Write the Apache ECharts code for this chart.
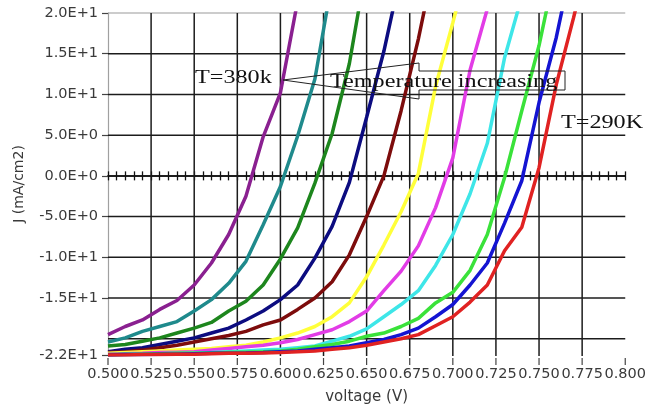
<!DOCTYPE html>
<html><head><meta charset="utf-8">
<script src="https://cdn.jsdelivr.net/npm/echarts@6/dist/echarts.min.js"></script>
<style>html,body{margin:0;padding:0;background:#fff}#c{width:649px;height:410px}</style>
</head><body><div id="c"></div>
<script>
// Shared voltage grid (V)
const voltage = [0.50,0.51,0.52,0.53,0.54,0.55,0.56,0.57,0.58,0.59,0.60,0.61,0.62,0.63,0.64,0.65,0.66,0.67,0.68,0.69,0.70,0.71,0.72,0.73,0.74,0.75,0.76,0.77,0.78];

// Current density J (mA/cm2), one list per temperature, left (hot) to right (cold)
const jPurple  = [-19.5,-18.5,-17.7,-16.4,-15.3,-13.4,-10.7,-7.2,-2.5,4.8,10.2,21.5];
const jTeal    = [-20.4,-19.9,-19.1,-18.5,-17.9,-16.6,-15.2,-13.2,-10.5,-6.0,-1.3,4.9,11.9,24];
const jDkGreen = [-20.9,-20.7,-20.3,-19.9,-19.3,-18.7,-18.0,-16.6,-15.4,-13.4,-10.2,-6.4,-0.9,5.2,13.8,26];
const jNavy    = [-21.6,-21.3,-21.1,-20.7,-20.3,-19.9,-19.3,-18.7,-17.7,-16.6,-15.2,-13.4,-10.1,-6.2,-0.8,7.2,15.3,25];
const jMaroon  = [-21.7,-21.6,-21.4,-21.1,-20.8,-20.4,-20.0,-19.6,-19.1,-18.3,-17.7,-16.4,-15.0,-13.0,-9.7,-5.0,0.0,8.0,16.8,27];
const jYellow  = [-21.8,-21.7,-21.6,-21.5,-21.4,-21.3,-21.2,-21.0,-20.8,-20.4,-19.9,-19.3,-18.5,-17.3,-15.6,-12.4,-8.5,-4.4,0.3,11.0,18.8,27];
const jMagenta = [-21.9,-21.85,-21.8,-21.7,-21.65,-21.6,-21.4,-21.2,-21.0,-20.8,-20.5,-20.1,-19.5,-18.9,-17.9,-16.6,-14.1,-11.7,-8.6,-3.9,2.2,13.0,20.5,28];
const jCyan    = [-22.0,-21.95,-21.9,-21.85,-21.8,-21.75,-21.7,-21.6,-21.5,-21.4,-21.3,-21.1,-20.9,-20.3,-19.7,-18.8,-17.3,-15.8,-14.1,-11.0,-7.2,-2.2,4.0,14.5,22];
const jGreen   = [-21.95,-21.9,-21.9,-21.85,-21.8,-21.8,-21.75,-21.7,-21.65,-21.6,-21.5,-21.3,-21.0,-20.7,-20.3,-19.7,-19.3,-18.5,-17.5,-15.6,-14.3,-11.6,-7.2,-0.2,8.0,16.0,26];
const jBlue    = [-22.0,-21.95,-21.95,-21.9,-21.9,-21.85,-21.8,-21.8,-21.75,-21.7,-21.6,-21.5,-21.3,-21.1,-20.9,-20.5,-20.1,-19.5,-18.7,-17.3,-15.8,-13.4,-10.7,-5.8,-0.6,9.0,17.0,27];
const jRed     = [-22.0,-22.0,-21.95,-21.95,-21.9,-21.9,-21.85,-21.8,-21.8,-21.75,-21.7,-21.6,-21.5,-21.3,-21.1,-20.8,-20.4,-20.0,-19.5,-18.4,-17.3,-15.5,-13.4,-9.2,-6.3,1.0,11.2,19.4,28];

const seriesNames  = ['T=380K','T2','T3','T4','T5','T6','T7','T8','T9','T10','T=290K'];
const seriesColors = ['#8a2090','#1f8a8c','#1d861d','#0c0c80','#7d0c0c','#ffff3a','#e23ce6','#3ee6e8','#3ae23a','#1414d2','#e02222'];
const seriesJ = [jPurple,jTeal,jDkGreen,jNavy,jMaroon,jYellow,jMagenta,jCyan,jGreen,jBlue,jRed];

// Axis ticks, labels and grid lines
const xTickValues = [0.500,0.525,0.550,0.575,0.600,0.625,0.650,0.675,0.700,0.725,0.750,0.775,0.800];
const xTickLabels = ['0.500','0.525','0.550','0.575','0.600','0.625','0.650','0.675','0.700','0.725','0.750','0.775','0.800'];
const xGridValues = [0.525,0.550,0.575,0.600,0.625,0.650,0.675,0.700,0.725,0.750,0.775];
const yTickValues = [-22,-15,-10,-5,0,5,10,15,20];
const yTickLabels = ['-2.2E+1','-1.5E+1','-1.0E+1','-5.0E+0','0.0E+0','5.0E+0','1.0E+1','1.5E+1','2.0E+1'];
const yGridValues = [-20,-15,-10,-5,5,10,15];
const X_MIN = 0.5, X_MAX = 0.8, Y_MIN = -22, Y_MAX = 20;

function nearestLabel(values, labels, v) {
  let best = 0;
  for (let i = 1; i < values.length; i++) if (Math.abs(values[i] - v) < Math.abs(values[best] - v)) best = i;
  return Math.abs(values[best] - v) < 1e-6 * Math.max(1, Math.abs(v)) + 1e-9 ? labels[best] : '';
}

const chart = echarts.init(document.getElementById('c'), null, {renderer:'canvas'});

const curveSeries = seriesJ.map((arr, k) => ({
  name: seriesNames[k],
  type: 'line',
  z: 5,
  showSymbol: false,
  symbol: 'none',
  smooth: false,
  lineStyle: {color: seriesColors[k], width: 3.5},
  itemStyle: {color: seriesColors[k]},
  data: arr.map((j, i) => [voltage[i], j])
}));

const axisFont = {fontFamily: 'DejaVu Sans', color: '#3a3a3a', fontSize: 14.5};
const minorAxis = (pos) => ({
  type: 'value', min: X_MIN, max: X_MAX, interval: 0.005, position: pos,
  axisLine: {show: true, onZero: true, onZeroAxisIndex: 0, lineStyle: {color: '#111', width: 1.5}},
  axisTick: {show: true, inside: false, length: 4.5, lineStyle: {color: '#111', width: 1.3}},
  axisLabel: {show: false}, splitLine: {show: false}
});

chart.setOption({
  animation: false,
  grid: {left: 108, right: 20, top: 13, bottom: 55},
  xAxis: [
    {
      type: 'value', min: X_MIN, max: X_MAX, interval: 0.025, position: 'bottom',
      name: 'voltage (V)', nameLocation: 'middle', nameGap: 35,
      nameTextStyle: {fontFamily: 'DejaVu Sans', color: '#3a3a3a', fontSize: 15},
      axisLine: {show: false, onZero: false},
      axisTick: {show: false},
      axisLabel: Object.assign({show: true, margin: 12, hideOverlap: false, showMinLabel: true, showMaxLabel: true,
        formatter: (v) => nearestLabel(xTickValues, xTickLabels, v)}, axisFont),
      splitLine: {show: false}
    },
    minorAxis('bottom'),
    minorAxis('top')
  ],
  yAxis: {
    type: 'value', min: Y_MIN, max: Y_MAX,
    name: 'J (mA/cm2)', nameLocation: 'middle', nameGap: 82, nameRotate: 90,
    nameTextStyle: {fontFamily: 'DejaVu Sans', color: '#3a3a3a', fontSize: 14},
    axisLine: {show: true, onZero: false, lineStyle: {color: '#a0a0a0', width: 1.2}},
    axisTick: {show: true, customValues: yTickValues, length: 6, lineStyle: {color: '#444', width: 1.2}},
    axisLabel: Object.assign({show: true, margin: 10, customValues: yTickValues,
      formatter: (v) => nearestLabel(yTickValues, yTickLabels, v)}, axisFont),
    splitLine: {show: false}
  },
  series: curveSeries
});

// Grid lines and bottom ticks placed through the chart's own scales
const toPx = (x, y) => chart.convertToPixel({xAxisIndex: 0, yAxisIndex: 0}, [x, y]);
const gridEls = [];
const gridStroke = '#1c1c1c';
yGridValues.forEach(v => {
  const a = toPx(X_MIN, v), b = toPx(X_MAX, v);
  gridEls.push({type: 'line', z: 4, silent: true, shape: {x1: a[0], y1: a[1], x2: b[0], y2: b[1]},
    style: {stroke: gridStroke, lineWidth: 1.5}});
});
{
  const a = toPx(X_MIN, Y_MAX), b = toPx(X_MAX, Y_MAX);
  gridEls.push({type: 'line', z: 4, silent: true, shape: {x1: a[0], y1: a[1], x2: b[0], y2: b[1]},
    style: {stroke: '#9a9a9a', lineWidth: 1.2}});
}
xGridValues.forEach(v => {
  const a = toPx(v, Y_MAX), b = toPx(v, Y_MIN);
  gridEls.push({type: 'line', z: 4, silent: true, shape: {x1: a[0], y1: a[1], x2: b[0], y2: b[1] + 1},
    style: {stroke: gridStroke, lineWidth: 1.5}});
});
xTickValues.forEach(v => {
  const b = toPx(v, Y_MIN);
  gridEls.push({type: 'line', z: 4, silent: true, shape: {x1: b[0], y1: b[1] + 3, x2: b[0], y2: b[1] + 10},
    style: {stroke: '#444', lineWidth: 1.2}});
});

const annotationEls = [
  {
    type: 'polygon', z: 50, silent: true,
    shape: {points: [[283,80],[419,63],[419,71],[565,71],[565,90],[419,90],[419,99]]},
    style: {fill: 'rgba(0,0,0,0)', stroke: '#222', lineWidth: 1}
  },
  {
    type: 'text', z: 60, x: 195, y: 78, scaleX: 1.24, silent: true,
    style: {text: 'T=380k', font: '19.5px "Liberation Serif"', fill: '#111', verticalAlign: 'middle', align: 'left'}
  },
  {
    type: 'text', z: 60, x: 330, y: 82, scaleX: 1.24, silent: true,
    style: {text: 'Temperature increasing', font: '19.5px "Liberation Serif"', fill: '#111', verticalAlign: 'middle', align: 'left'}
  },
  {
    type: 'text', z: 60, x: 561, y: 123, scaleX: 1.24, silent: true,
    style: {text: 'T=290K', font: '19.5px "Liberation Serif"', fill: '#111', verticalAlign: 'middle', align: 'left'}
  }
];

chart.setOption({graphic: gridEls.concat(annotationEls)});
</script>
</body></html>
